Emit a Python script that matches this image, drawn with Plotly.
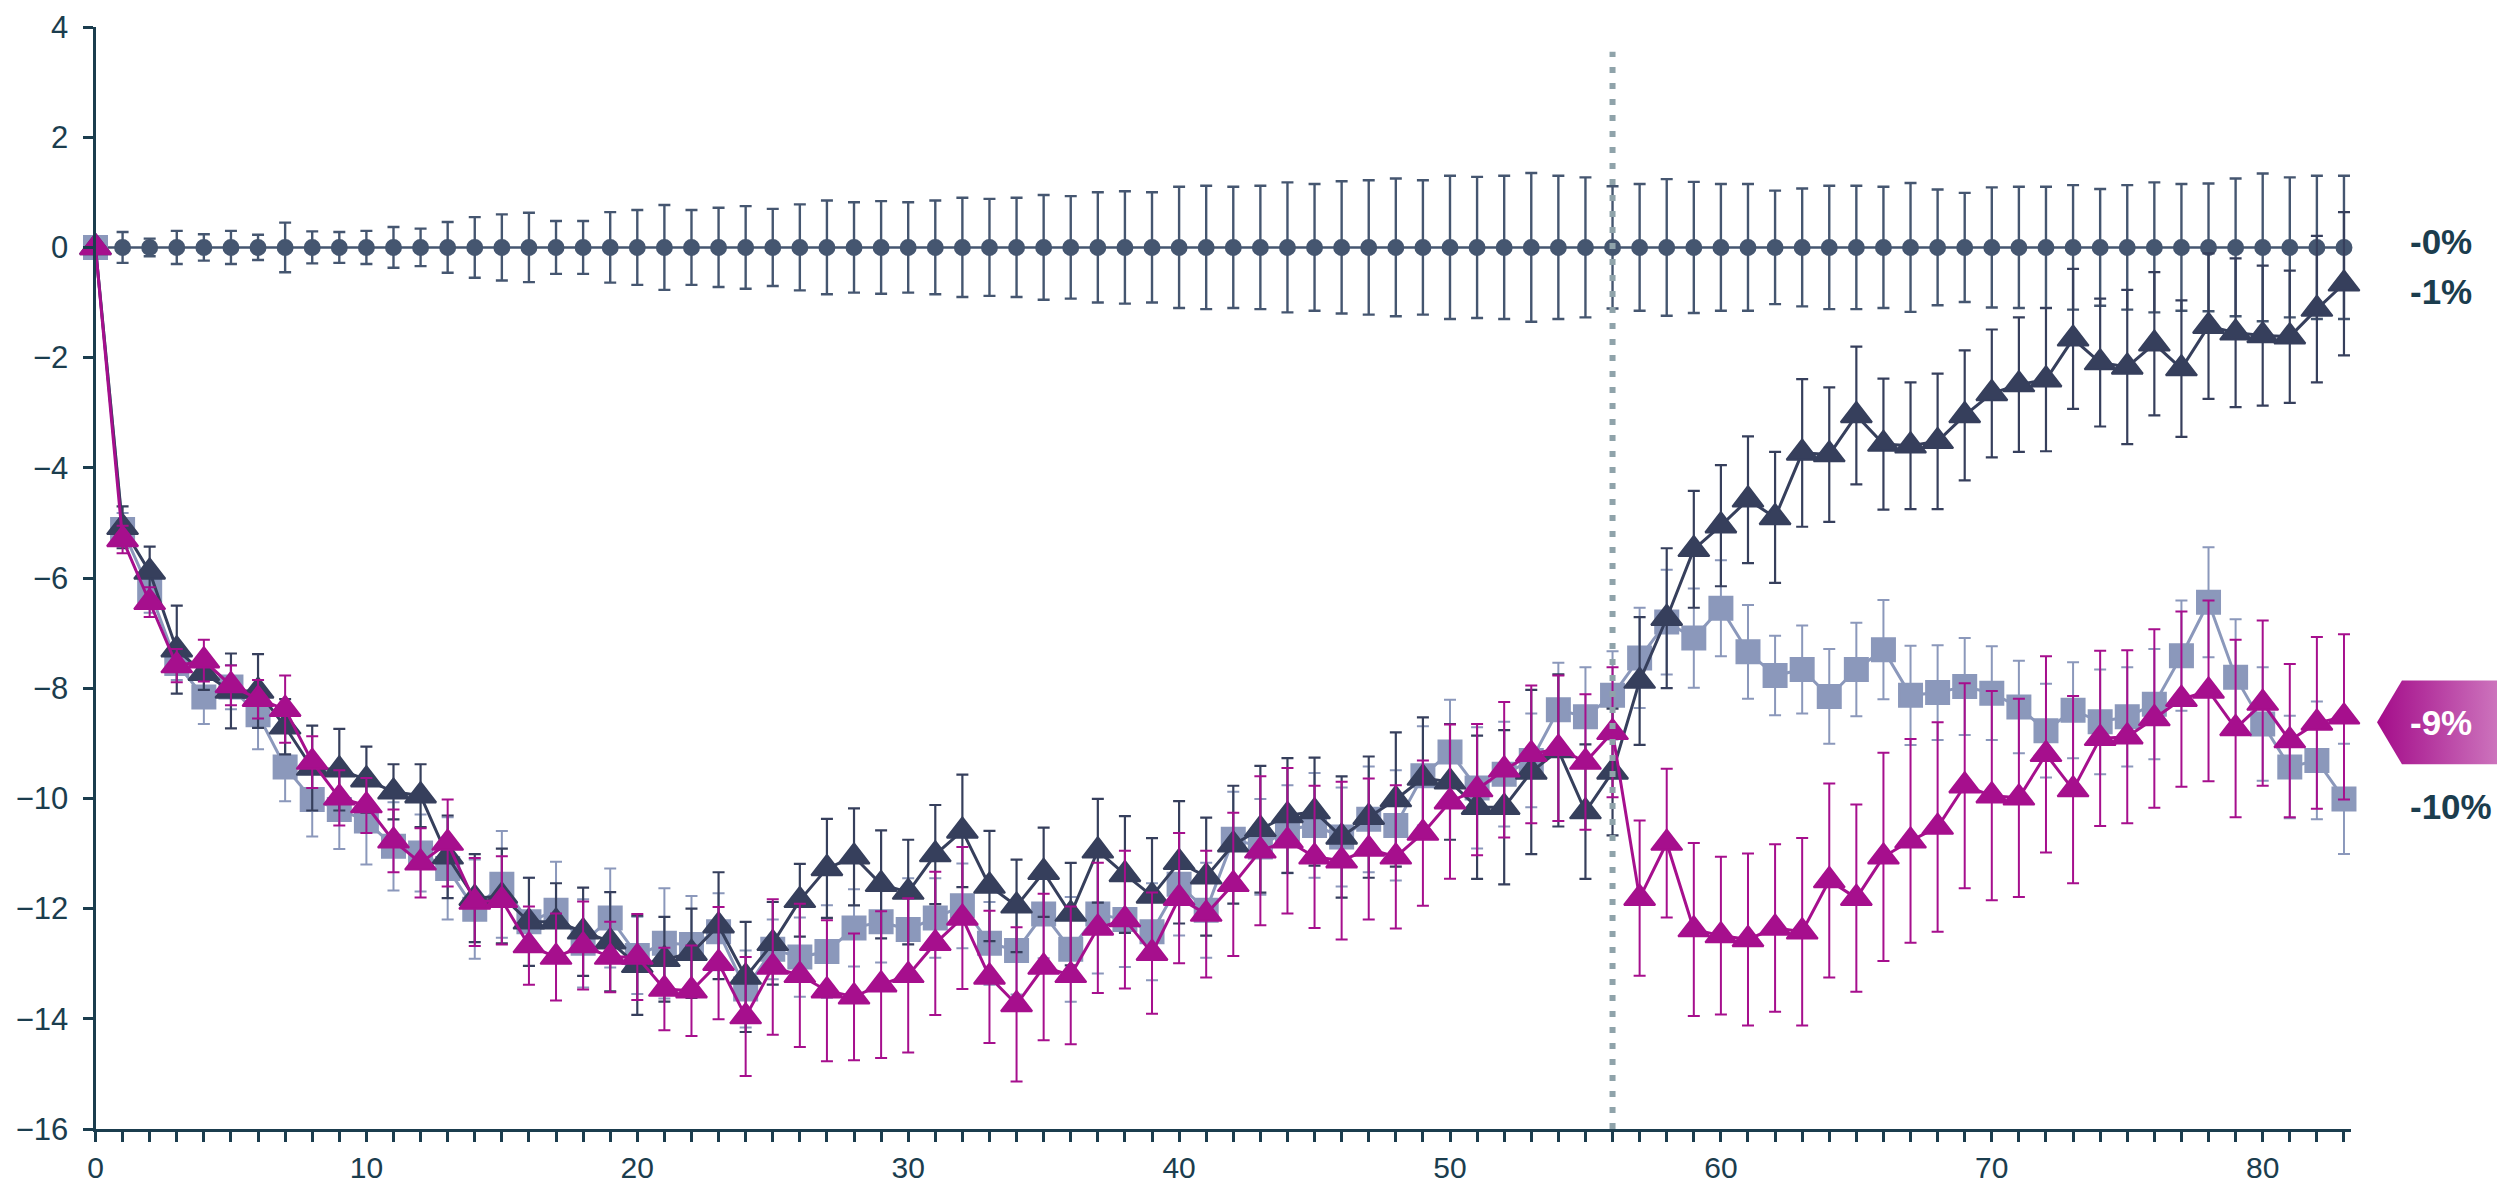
import plotly.graph_objects as go

# ---------------- data ----------------
weeks = list(range(84))

placebo = [0, 0, 0, 0, 0, 0, 0, 0, 0, 0, 0, 0, 0, 0, 0, 0, 0, 0, 0, 0, 0, 0, 0, 0, 0, 0, 0, 0,
           0, 0, 0, 0, 0, 0, 0, 0, 0, 0, 0, 0, 0, 0, 0, 0, 0, 0, 0, 0, 0, 0, 0, 0, 0, 0, 0, 0,
           0, 0, 0, 0, 0, 0, 0, 0, 0, 0, 0, 0, 0, 0, 0, 0, 0, 0, 0, 0, 0, 0, 0, 0, 0, 0, 0, 0]
placebo_err = [0, 0.28, 0.16, 0.30, 0.24, 0.30, 0.23, 0.45, 0.29, 0.28, 0.30, 0.37, 0.34, 0.46,
               0.55, 0.60, 0.63, 0.48, 0.48, 0.64, 0.68, 0.77, 0.68,
               0.72, 0.75, 0.70, 0.78, 0.85, 0.82, 0.84, 0.82, 0.85, 0.90, 0.88, 0.90, 0.95,
               0.93, 1.00, 1.02, 1.00, 1.10, 1.12, 1.10, 1.12, 1.18, 1.15, 1.20, 1.22, 1.25,
               1.22, 1.30, 1.28, 1.30, 1.35, 1.30, 1.27,
               1.11, 1.15, 1.24, 1.19, 1.15, 1.15, 1.03, 1.07, 1.12, 1.12, 1.10, 1.17, 1.05,
               0.99, 1.09, 1.10, 1.10, 1.13, 1.06, 1.13, 1.18, 1.15, 1.16, 1.25, 1.34, 1.27,
               1.30, 1.30]

navy = [0, -5.08, -5.89, -7.30, -7.73, -8.05, -8.05, -8.70, -9.45, -9.48, -9.66, -9.88, -9.95,
        -11.06, -11.81, -11.77, -12.24, -12.24, -12.42, -12.60, -13.03, -12.92, -12.81,
        -12.31, -13.24, -12.63, -11.85, -11.27, -11.06, -11.56, -11.70, -11.02, -10.59,
        -11.59, -11.95, -11.34, -12.10, -10.95, -11.38, -11.77, -11.16, -11.42, -10.84,
        -10.56, -10.31, -10.24,
        -10.70, -10.34, -10.02, -9.63, -9.70, -10.16, -10.16, -9.52, -9.13, -10.24, -9.52,
        -7.87, -6.73, -5.48, -5.05, -4.58, -4.90, -3.73, -3.76, -3.05, -3.57, -3.60, -3.52,
        -3.05, -2.65, -2.49, -2.40, -1.66, -2.09, -2.17, -1.75, -2.20, -1.43, -1.55, -1.60,
        -1.62, -1.12, -0.66]
navy_err = [0, 0.38, 0.46, 0.80, 0.30, 0.68, 0.67, 0.50, 0.77, 0.74, 0.60, 0.50, 0.57, 0.75,
            0.80, 0.86, 0.80, 0.70, 0.80, 0.90, 0.90, 0.77, 0.81,
            0.97, 1.00, 0.75, 0.66, 0.90, 0.88, 0.98, 0.95, 0.90, 1.02, 1.00, 0.84, 0.81,
            0.93, 0.94, 1.06, 1.05, 1.11, 1.07, 1.07, 1.15, 1.04, 0.98,
            1.10, 1.10, 1.22, 1.10, 1.05, 1.30, 1.40, 1.49, 1.38, 1.22, 1.15, 1.16, 1.27,
            1.06, 1.10, 1.15, 1.19, 1.34, 1.22, 1.25, 1.19, 1.15, 1.23, 1.18, 1.16, 1.22,
            1.30, 1.27, 1.16, 1.40, 1.30, 1.24, 1.32, 1.35, 1.27, 1.20, 1.33, 1.30]

grey = [0, -5.12, -6.23, -7.55, -8.16, -7.98, -8.48, -9.43, -10.02, -10.20, -10.41, -10.87,
        -10.99, -11.27, -12.01, -11.56, -12.24, -12.03, -12.63, -12.17, -12.85, -12.63, -12.65,
        -12.42, -13.46, -12.74, -12.88, -12.78, -12.35, -12.24, -12.38, -12.17, -11.95,
        -12.63, -12.76, -12.10, -12.74, -12.10, -12.20, -12.42, -11.56, -12.03, -10.74,
        -10.88, -10.56, -10.49,
        -10.70, -10.38, -10.49, -9.59, -9.16, -9.81, -9.56, -9.31, -8.39, -8.52, -8.13,
        -7.45, -6.80, -7.09, -6.55, -7.34, -7.77, -7.66, -8.15, -7.66, -7.30, -8.13, -8.08,
        -7.97, -8.09, -8.34, -8.77, -8.40, -8.61, -8.52, -8.29, -7.41, -6.44, -7.80, -8.65,
        -9.43, -9.31, -10.01]
grey_err = [0, 0.30, 0.40, 0.30, 0.49, 0.40, 0.63, 0.62, 0.67, 0.72, 0.79, 0.80, 0.70, 0.93,
            0.90, 0.97, 0.80, 0.88, 0.80, 0.90, 0.70, 1.00, 0.88,
            0.70, 0.70, 0.54, 0.72, 0.84, 0.70, 0.74, 0.93, 0.72, 0.77, 0.75, 0.80, 0.80,
            0.95, 1.08, 0.86, 0.88, 0.93, 0.86, 0.86, 0.87, 0.80, 0.95,
            0.90, 0.96, 1.00, 0.90, 0.95, 1.10, 0.95, 0.85, 0.85, 0.90, 0.80, 0.91, 0.95,
            0.90, 0.87, 0.85, 0.72, 0.80, 0.86, 0.85, 0.90, 0.90, 0.86, 0.88, 0.85, 0.84,
            0.85, 0.87, 0.95, 0.90, 1.00, 1.00, 1.00, 1.05, 1.03, 0.93, 1.07, 1.00]

magenta = [0, -5.30, -6.44, -7.59, -7.50, -7.95, -8.20, -8.38, -9.34, -9.99, -10.13, -10.77,
           -11.17, -10.81, -11.88, -11.85, -12.67, -12.88, -12.67, -12.88, -12.88, -13.46, -13.49,
           -12.99, -13.96, -13.06, -13.21, -13.49, -13.60, -13.38, -13.21, -12.63, -12.17,
           -13.24, -13.74, -13.06, -13.21, -12.35, -12.20, -12.81, -11.81, -12.10, -11.56,
           -10.95, -10.77, -11.06,
           -11.13, -10.92, -11.06, -10.63, -10.06, -9.84, -9.48, -9.20, -9.09, -9.34, -8.80,
           -11.81, -10.81, -12.38, -12.49, -12.56, -12.35, -12.42, -11.49, -11.81, -11.06,
           -10.77, -10.52, -9.77, -9.95, -9.99, -9.20, -9.84, -8.91, -8.88, -8.55, -8.20,
           -8.05, -8.73, -8.27, -8.95, -8.63, -8.52]
magenta_err = [0, 0.25, 0.27, 0.30, 0.38, 0.36, 0.35, 0.61, 0.47, 0.50, 0.50, 0.57, 0.63, 0.79,
               0.80, 0.80, 0.71, 0.79, 0.80, 0.64, 0.78, 0.75, 0.82,
               1.02, 1.08, 1.23, 1.30, 1.28, 1.15, 1.33, 1.40, 1.30, 1.29, 1.20, 1.40, 1.33,
               1.25, 1.18, 1.25, 1.10, 1.18, 1.15, 1.30, 1.35, 1.32, 1.29,
               1.43, 1.28, 1.30, 1.32, 1.40, 1.19, 1.23, 1.25, 1.32, 1.23, 1.18, 1.41, 1.35,
               1.57, 1.43, 1.56, 1.52, 1.70, 1.76, 1.70, 1.89, 1.85, 1.90, 1.86, 1.90, 1.80,
               1.78, 1.70, 1.59, 1.57, 1.62, 1.59, 1.64, 1.61, 1.50, 1.39, 1.56, 1.50]

x_tick_labels = ["0", "10", "20", "30", "40", "50", "60", "70", "80"]
y_tick_values = [-16, -14, -12, -10, -8, -6, -4, -2, 0, 2, 4]
end_labels = ["-0%", "-1%", "-9%", "-10%"]
end_label_y = [0.1, -0.8, -8.62, -10.15]
switch_week = 56

for arr in (placebo, placebo_err, navy, navy_err, grey, grey_err, magenta, magenta_err):
    assert len(arr) == len(weeks), len(arr)

# ---------------- styling ----------------
W, H = 2497, 1184
AXIS_COL = "#1b3d4e"
PLACEBO_COL = "#455670"
NAVY_COL = "#363f5c"
GREY_COL = "#8b98bb"
MAG_COL = "#a60f8d"
FONT = "Liberation Sans, Arial, sans-serif"

x_range = [0, 83.25]
y_range = [-16, 4]
dom_x = [95.5 / W, (95.5 + 83.25 * 27.09) / W]
dom_y = [1 - 1129 / H, 1 - 27 / H]

fig = go.Figure()

def add_series(y, err, color, symbol, size, lw, ew):
    fig.add_trace(go.Scatter(
        x=weeks, y=y, mode="lines+markers", cliponaxis=False,
        line=dict(color=color, width=lw),
        marker=dict(symbol=symbol, size=size, color=color, line=dict(color=color, width=2)),
        error_y=dict(type="data", array=err, visible=True, color=color, thickness=ew, width=6),
        showlegend=False, hoverinfo="skip"))

add_series(placebo, placebo_err, PLACEBO_COL, "circle", 15, 2.5, 2.4)
add_series(grey, grey_err, GREY_COL, "square", 23, 3, 2)
add_series(navy, navy_err, NAVY_COL, "triangle-up", 27, 3, 2.2)
add_series(magenta, magenta_err, MAG_COL, "triangle-up", 27, 3, 2)

# overlay axes spanning the whole figure, aligned with the data scales
ppu_x = (dom_x[1] - dom_x[0]) * W / (x_range[1] - x_range[0])
ppu_y = (dom_y[1] - dom_y[0]) * H / (y_range[1] - y_range[0])
x2_range = [x_range[0] - dom_x[0] * W / ppu_x, x_range[1] + (1 - dom_x[1]) * W / ppu_x]
y2_range = [y_range[0] - dom_y[0] * H / ppu_y, y_range[1] + (1 - dom_y[1]) * H / ppu_y]

# callout for the -9% label
tip_x, flat_x, right_x = 84.22, 85.14, x2_range[1] + 0.5
cy, half_h = end_label_y[2], 0.76
fig.add_trace(go.Scatter(
    x=[tip_x, flat_x, right_x, right_x, flat_x, tip_x],
    y=[cy, cy + half_h, cy + half_h, cy - half_h, cy - half_h, cy],
    mode="lines", line=dict(width=0), fill="toself",
    fillgradient=dict(type="horizontal", colorscale=[[0, "#a40c8a"], [0.35, "#b3339d"], [1, "#d17fc2"]]),
    xaxis="x2", yaxis="y2", showlegend=False, hoverinfo="skip"))

label_x = [85.35, 85.35, 86.6, 85.35]
for i, txt in enumerate(end_labels):
    fig.add_annotation(
        x=label_x[i], y=end_label_y[i], xref="x2", yref="y2", text=f"<b>{txt}</b>",
        showarrow=False, xanchor="center" if i == 2 else "left", yanchor="middle",
        font=dict(family=FONT, size=35, color="white" if i == 2 else AXIS_COL))

fig.add_shape(type="line", xref="x", yref="y", x0=switch_week, x1=switch_week, y0=-16, y1=3.55,
              line=dict(color="#8fa3aa", width=6, dash="6px,10px"), layer="above")

fig.update_layout(
    width=W, height=H,
    margin=dict(l=0, r=0, t=0, b=0),
    paper_bgcolor="white", plot_bgcolor="rgba(0,0,0,0)",
    font=dict(family=FONT, color=AXIS_COL, size=30),
    showlegend=False,
    xaxis=dict(domain=dom_x, range=x_range, automargin=False,
               showline=True, linecolor=AXIS_COL, linewidth=3,
               tickmode="array", tickvals=weeks,
               ticktext=[x_tick_labels[v // 10] if v % 10 == 0 else "" for v in weeks],
               ticks="outside", ticklen=10, tickwidth=3, tickcolor=AXIS_COL,
               showgrid=False, zeroline=False, ticklabelstandoff=0,
               tickfont=dict(size=30, color=AXIS_COL, family=FONT)),
    yaxis=dict(domain=dom_y, range=y_range, automargin=False,
               showline=True, linecolor=AXIS_COL, linewidth=3,
               tickmode="array", tickvals=y_tick_values,
               ticks="outside", ticklen=10, tickwidth=3, tickcolor=AXIS_COL,
               showgrid=False, zeroline=False, ticklabelstandoff=8,
               tickfont=dict(size=31, color=AXIS_COL, family=FONT)),
    xaxis2=dict(domain=[0, 1], range=x2_range, visible=False, anchor="y2", fixedrange=True),
    yaxis2=dict(domain=[0, 1], range=y2_range, visible=False, anchor="x2", fixedrange=True),
)

fig.write_html("out.html", config={"displayModeBar": False},
               post_script="document.body.style.margin='0';document.body.style.overflow='hidden';")
